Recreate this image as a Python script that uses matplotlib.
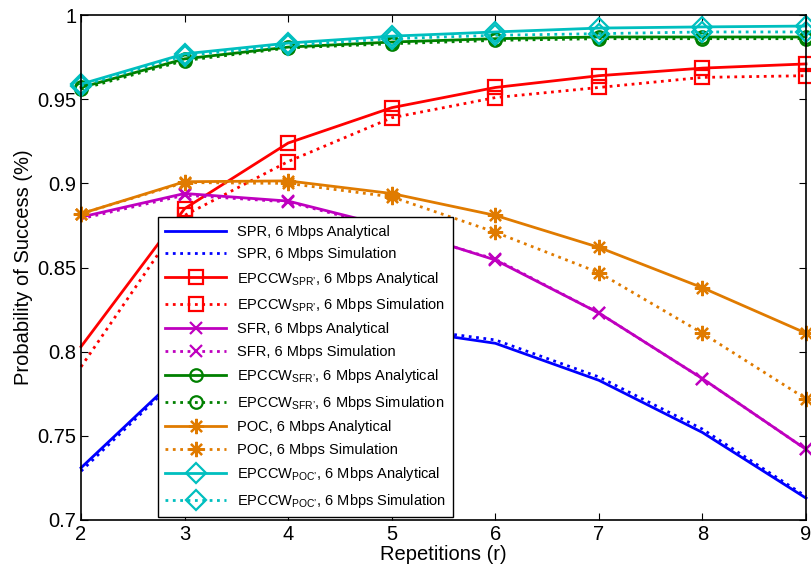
import matplotlib
matplotlib.use("Agg")
import matplotlib.pyplot as plt

plt.rcParams["font.family"] = ["Liberation Sans", "DejaVu Sans"]
plt.rcParams["mathtext.fontset"] = "custom"
plt.rcParams["mathtext.rm"] = "Liberation Sans"

# repetitions
reps = [2, 3, 4, 5, 6, 7, 8, 9]

# probability of success
spr_ana = [0.731, 0.789, 0.808, 0.814, 0.805, 0.783, 0.752, 0.713]
spr_sim = [0.729, 0.788, 0.808, 0.815, 0.807, 0.785, 0.754, 0.714]
ep_spr_ana = [0.803, 0.885, 0.924, 0.945, 0.957, 0.964, 0.9685, 0.971]
ep_spr_sim = [0.791, 0.881, 0.913, 0.939, 0.951, 0.957, 0.963, 0.964]
sfr_ana = [0.880, 0.894, 0.8895, 0.874, 0.8545, 0.823, 0.784, 0.742]
sfr_sim = [0.879, 0.893, 0.889, 0.873, 0.855, 0.823, 0.784, 0.742]
ep_sfr_ana = [0.957, 0.974, 0.981, 0.984, 0.986, 0.987, 0.987, 0.987]
ep_sfr_sim = [0.956, 0.973, 0.9805, 0.983, 0.985, 0.986, 0.986, 0.986]
poc_ana = [0.882, 0.901, 0.9015, 0.894, 0.881, 0.862, 0.838, 0.811]
poc_sim = [0.882, 0.9005, 0.900, 0.892, 0.871, 0.847, 0.811, 0.772]
ep_poc_ana = [0.959, 0.977, 0.9834, 0.9875, 0.990, 0.9923, 0.993, 0.9935]
ep_poc_sim = [0.958, 0.976, 0.982, 0.986, 0.988, 0.989, 0.990, 0.990]

BLUE = "#0000ff"
RED = "#ff0000"
MAG = "#bf00bf"
GREEN = "#008000"
ORANGE = "#e07b00"
CYAN = "#00bfbf"
STAR = (8, 2, 0)

fig = plt.figure(figsize=(8.12, 5.75), dpi=100)
ax = fig.add_axes([0.0998, 0.0957, 0.8928, 0.878])

# (values, colour, style, marker, size, first marked point, label)
series = [
    (spr_ana, BLUE, "-", None, 0, 0, "SPR, 6 Mbps Analytical"),
    (spr_sim, BLUE, ":", None, 0, 0, "SPR, 6 Mbps Simulation"),
    (ep_spr_ana, RED, "-", "s", 10, 1, "EPCCW$_{\\mathregular{SPR’}}$, 6 Mbps Analytical"),
    (ep_spr_sim, RED, ":", "s", 10, 1, "EPCCW$_{\\mathregular{SPR’}}$, 6 Mbps Simulation"),
    (sfr_ana, MAG, "-", "x", 9, 1, "SFR, 6 Mbps Analytical"),
    (sfr_sim, MAG, ":", "x", 9, 1, "SFR, 6 Mbps Simulation"),
    (ep_sfr_ana, GREEN, "-", "o", 9, 0, "EPCCW$_{\\mathregular{SFR’}}$, 6 Mbps Analytical"),
    (ep_sfr_sim, GREEN, ":", "o", 9, 0, "EPCCW$_{\\mathregular{SFR’}}$, 6 Mbps Simulation"),
    (poc_ana, ORANGE, "-", STAR, 11, 0, "POC, 6 Mbps Analytical"),
    (poc_sim, ORANGE, ":", STAR, 11, 0, "POC, 6 Mbps Simulation"),
    (ep_poc_ana, CYAN, "-", "D", 10, 0, "EPCCW$_{\\mathregular{POC’}}$, 6 Mbps Analytical"),
    (ep_poc_sim, CYAN, ":", "D", 10, 0, "EPCCW$_{\\mathregular{POC’}}$, 6 Mbps Simulation"),
]

for vals, col, ls, mk, ms, start, lab in series:
    ax.plot(reps, vals, color=col, ls=ls, lw=2, marker=mk, ms=ms,
            markevery=slice(start, None), mfc="none", mec=col, mew=1.6,
            label=lab, clip_on=False)

ax.set_xlim(2, 9)
ax.set_ylim(0.7, 1.0)
ax.set_xticks(reps)
ax.set_yticks([0.7, 0.75, 0.8, 0.85, 0.9, 0.95, 1.0])
ax.set_yticklabels(["0.7", "0.75", "0.8", "0.85", "0.9", "0.95", "1"])
ax.tick_params(direction="in", top=True, right=True, labelsize=14.5, length=5)
ax.set_xlabel("Repetitions (r)", fontsize=14.5, labelpad=1)
ax.set_ylabel("Probability of Success (%)", fontsize=14.5, labelpad=3)
for sp in ax.spines.values():
    sp.set_linewidth(1.2)

leg = ax.legend(loc="lower left", bbox_to_anchor=(0.106, 0.006), fontsize=10.5,
                handlelength=4.2, handletextpad=0.7, labelspacing=0.58,
                fancybox=False, edgecolor="black", framealpha=1,
                borderpad=0.5, borderaxespad=0)
leg.get_frame().set_linewidth(1.0)

fig.savefig("out.png", dpi=100)
